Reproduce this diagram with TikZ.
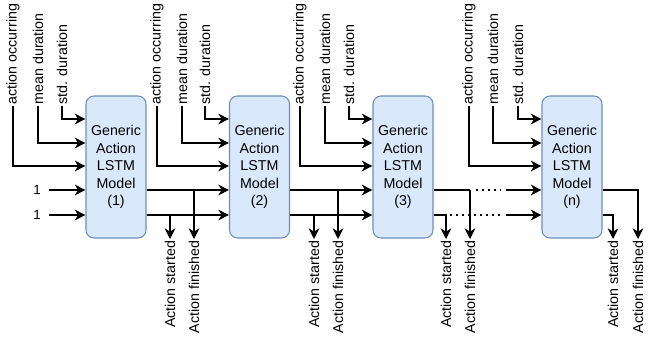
\documentclass[tikz,border=0pt]{standalone}
\usepackage{fontspec}
\setmainfont{Liberation Sans}
\usetikzlibrary{arrows.meta}
\definecolor{boxfill}{HTML}{DAE8FC}
\definecolor{boxline}{HTML}{6C8EBF}
\tikzset{
  model/.style={draw=boxline,fill=boxfill,rounded corners=6pt,line width=0.8pt,
    minimum width=45pt,minimum height=106.5pt,align=center,
    font=\fontsize{10.7pt}{13.1pt}\selectfont},
  arr/.style={-{Stealth[length=8pt,width=8pt,inset=2.5pt]},line width=0.9pt},
  link/.style={line width=0.9pt},
  dotline/.style={line width=1.2pt,dash pattern=on 1.5pt off 3pt},
  inlabel/.style={rotate=90,anchor=west,inner sep=1pt,font=\fontsize{10.7pt}{12pt}\selectfont},
  outlabel/.style={rotate=90,anchor=east,inner sep=1pt,font=\fontsize{10.7pt}{12pt}\selectfont},
}
\begin{document}
\begin{tikzpicture}[x=0.75pt,y=-0.75pt]
\useasboundingbox (0,0) rectangle (650,339);
% the models
\node[model] (m1) at (116,167) {Generic\\Action\\LSTM\\Model\\(1)};
\node[model] (m2) at (259.5,167) {Generic\\Action\\LSTM\\Model\\(2)};
\node[model] (m3) at (403,167) {Generic\\Action\\LSTM\\Model\\(3)};
\node[model] (mn) at (572,167) {Generic\\Action\\LSTM\\Model\\(n)};
% inputs of model 1
\node[inlabel] (occ1) at (13,106) {action occurring};
\node[inlabel] (mean1) at (38,106) {mean duration};
\node[inlabel] (std1) at (62,106) {std. duration};
\draw[arr] (occ1.west) |- (m1.west |- 0,166);
\draw[arr] (mean1.west) |- (m1.west |- 0,143);
\draw[arr] (std1.west) |- (m1.west |- 0,119);
\node[inner sep=6pt] (one1) at (37,190) {1};
\node[inner sep=6pt] (one2) at (37,215) {1};
\draw[arr] (one1.east) -- (m1.west |- one1);
\draw[arr] (one2.east) -- (m1.west |- one2);
% inputs of model 2
\node[inlabel] (occ2) at (157,106) {action occurring};
\node[inlabel] (mean2) at (182,106) {mean duration};
\node[inlabel] (std2) at (205,106) {std. duration};
\draw[arr] (occ2.west) |- (m2.west |- 0,166);
\draw[arr] (mean2.west) |- (m2.west |- 0,143);
\draw[arr] (std2.west) |- (m2.west |- 0,119);
% inputs of model 3
\node[inlabel] (occ3) at (300,106) {action occurring};
\node[inlabel] (mean3) at (325,106) {mean duration};
\node[inlabel] (std3) at (349,106) {std. duration};
\draw[arr] (occ3.west) |- (m3.west |- 0,166);
\draw[arr] (mean3.west) |- (m3.west |- 0,143);
\draw[arr] (std3.west) |- (m3.west |- 0,119);
% inputs of model n
\node[inlabel] (occn) at (469,106) {action occurring};
\node[inlabel] (meann) at (493,106) {mean duration};
\node[inlabel] (stdn) at (518,106) {std. duration};
\draw[arr] (occn.west) |- (mn.west |- 0,166);
\draw[arr] (meann.west) |- (mn.west |- 0,143);
\draw[arr] (stdn.west) |- (mn.west |- 0,119);
% outputs
\node[outlabel] (st1) at (170,239) {Action started};
\node[outlabel] (fi1) at (194,239) {Action finished};
\node[outlabel] (st2) at (314,239) {Action started};
\node[outlabel] (fi2) at (338,239) {Action finished};
\node[outlabel] (st3) at (446,239) {Action started};
\node[outlabel] (fi3) at (470,239) {Action finished};
\node[outlabel] (stn) at (613,239) {Action started};
\node[outlabel] (fin) at (638,239) {Action finished};
% model 1 to model 2
\draw[arr] (m1.east |- 0,190) -- (m2.west |- 0,190);
\draw[arr] (m1.east |- 0,215) -- (m2.west |- 0,215);
\draw[arr] (fi1.east |- 0,190) -- (fi1.east);
\draw[arr] (st1.east |- 0,215) -- (st1.east);
% model 2 to model 3
\draw[arr] (m2.east |- 0,190) -- (m3.west |- 0,190);
\draw[arr] (m2.east |- 0,215) -- (m3.west |- 0,215);
\draw[arr] (fi2.east |- 0,190) -- (fi2.east);
\draw[arr] (st2.east |- 0,215) -- (st2.east);
% model 3 to model n, with a gap
\coordinate (gapA) at (506,190);
\coordinate (gapB) at (506,215);
\draw[link] (m3.east |- 0,190) -- (fi3.east |- 0,190);
\draw[arr] (fi3.east |- 0,190) -- (fi3.east);
\draw[arr] (m3.east |- 0,215) -| (st3.east);
\draw[dotline] (476,190) -- (501,190);
\draw[dotline] (450,215) -- (501,215);
\draw[arr] (gapA) -- (mn.west |- gapA);
\draw[arr] (gapB) -- (mn.west |- gapB);
% model n
\draw[arr] (mn.east |- 0,190) -| (fin.east);
\draw[arr] (mn.east |- 0,215) -| (stn.east);
\end{tikzpicture}
\end{document}
